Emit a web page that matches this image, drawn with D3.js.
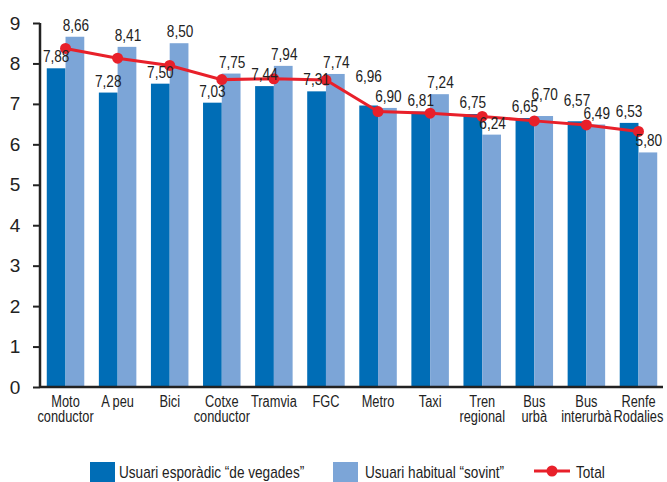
<!DOCTYPE html>
<html>
<head>
<meta charset="utf-8">
<script src="https://cdn.jsdelivr.net/npm/d3@7"></script>
<style>
  body { margin: 0; background: #fff; }
  text { font-family: "Liberation Sans", Arial, sans-serif; fill: #222; }
</style>
</head>
<body>
<div id="graph"></div>
<script>
// chart data
const categories = [["Moto","conductor"],["A peu"],["Bici"],["Cotxe","conductor"],["Tramvia"],["FGC"],
  ["Metro"],["Taxi"],["Tren","regional"],["Bus","urbà"],["Bus","interurbà"],["Renfe","Rodalies"]];
const esporadic = [7.88, 7.28, 7.50, 7.03, 7.44, 7.31, 6.96, 6.81, 6.75, 6.65, 6.57, 6.53];
const habitual  = [8.66, 8.41, 8.50, 7.75, 7.94, 7.74, 6.90, 7.24, 6.24, 6.70, 6.49, 5.80];
const total     = [8.37, 8.13, 7.95, 7.60, 7.62, 7.59, 6.81, 6.77, 6.69, 6.58, 6.48, 6.32];
const yTicks = [0,1,2,3,4,5,6,7,8,9];
const seriesNames = ["Usuari esporàdic \u201cde vegades\u201d", "Usuari habitual \u201csovint\u201d", "Total"];

// layout: extra lift (px) for value labels that would collide
const liftEsp = [0, 0, 0, 0, 0, 0, 18, 0, 0, 0, 9, 0];
const liftHab = [0, 0, 0, 0, 0, 0, 0, 0, 0, 10, 0, 0];

const W = 667, H = 482;
const margin = {top: 23, right: 3, bottom: 95, left: 40};
const width = W - margin.left - margin.right,
      height = H - margin.top - margin.bottom;

const dark = "#006db6", light = "#7ca5d7", red = "#e8202a";
const fmt = v => v.toFixed(2).replace(".", ",");

// condensed look: squeeze glyphs via textLength
const NUM_SX = 0.85, WORD_SX = 0.8, LEG_SX = 0.8;
function condense(sel, sx) {
  sel.each(function() {
    const len = this.getComputedTextLength();
    d3.select(this).attr("textLength", len * sx).attr("lengthAdjust", "spacingAndGlyphs");
  });
}

const svg = d3.select("#graph").append("svg")
    .attr("width", W).attr("height", H)
  .append("g")
    .attr("transform", `translate(${margin.left},${margin.top})`);

const x = d3.scaleBand().domain(d3.range(categories.length)).range([0, width]).paddingInner(0.28).paddingOuter(0.13);
const y = d3.scaleLinear().domain([0, 9]).range([height, 0]);
const bw = x.bandwidth() / 2;

// bars
svg.selectAll("rect.esp").data(esporadic).join("rect")
  .attr("x", (d, i) => x(i)).attr("y", d => y(d))
  .attr("width", bw).attr("height", d => height - y(d)).attr("fill", dark);
svg.selectAll("rect.hab").data(habitual).join("rect")
  .attr("x", (d, i) => x(i) + bw).attr("y", d => y(d))
  .attr("width", bw).attr("height", d => height - y(d)).attr("fill", light);

// y axis
const yAxis = svg.append("g")
  .call(d3.axisLeft(y).tickValues(yTicks).tickSize(7).tickFormat(""));
yAxis.select(".domain").attr("stroke", "#222").attr("stroke-width", 2.5).attr("d", `M0,0V${height}`);
yAxis.selectAll(".tick line").attr("stroke", "#222").attr("stroke-width", 2);
svg.selectAll("text.ytick").data(yTicks).join("text")
  .attr("text-anchor", "middle").attr("x", -25).attr("y", d => y(d) + 6.5)
  .style("font-size", "19px").text(d => d);

// x axis line
svg.append("line").attr("x1", 0).attr("x2", width - 1).attr("y1", height).attr("y2", height)
  .attr("stroke", "#222").attr("stroke-width", 2.5);

// category labels
const cat = svg.selectAll("text.cat").data(categories).join("text")
  .attr("text-anchor", "middle")
  .attr("transform", (d, i) => `translate(${x(i) + x.bandwidth() / 2},${height + 20})`)
  .style("font-size", "16px");
cat.selectAll("tspan").data(d => d).join("tspan")
  .attr("x", 0).attr("dy", (d, j) => j ? 15 : 0).text(d => d)
  .call(condense, WORD_SX);

// total line
const line = d3.line().x((d, i) => x(i) + x.bandwidth() / 2).y(d => y(d));
svg.append("path").datum(total).attr("d", line)
  .attr("fill", "none").attr("stroke", red).attr("stroke-width", 3);
svg.selectAll("circle.tot").data(total).join("circle")
  .attr("cx", (d, i) => x(i) + x.bandwidth() / 2).attr("cy", d => y(d)).attr("r", 5.5).attr("fill", red);

// value labels
svg.selectAll("text.ve").data(esporadic).join("text")
  .attr("text-anchor", "middle")
  .attr("x", (d, i) => x(i) + bw / 2).attr("y", (d, i) => y(d) - 6 - liftEsp[i])
  .style("font-size", "16px").text(fmt)
  .call(condense, NUM_SX);
svg.selectAll("text.vh").data(habitual).join("text")
  .attr("text-anchor", "middle")
  .attr("x", (d, i) => x(i) + bw * 1.5 + 1).attr("y", (d, i) => y(d) - 6 - liftHab[i])
  .style("font-size", "16px").text(fmt)
  .call(condense, NUM_SX);

// legend
const leg = d3.select("svg").append("g").attr("transform", "translate(0,471)");
leg.append("rect").attr("x", 90).attr("y", -9).attr("width", 25).attr("height", 24).attr("fill", dark);
leg.append("rect").attr("x", 333).attr("y", -9).attr("width", 25).attr("height", 24).attr("fill", light);
leg.append("line").attr("x1", 534).attr("x2", 570).attr("y1", 0).attr("y2", 0).attr("stroke", red).attr("stroke-width", 3);
leg.append("circle").attr("cx", 552).attr("cy", 0).attr("r", 5.5).attr("fill", red);
leg.selectAll("text.lg").data(seriesNames).join("text")
  .attr("x", (d, i) => [119, 365, 576][i]).attr("y", 6.5)
  .style("font-size", "17px").text(d => d)
  .call(condense, LEG_SX);
</script>
</body>
</html>
